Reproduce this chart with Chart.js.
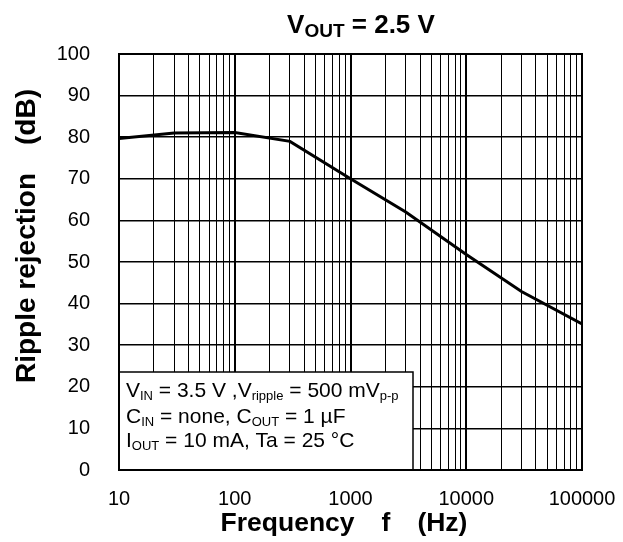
<!DOCTYPE html>
<html>
<head>
<meta charset="utf-8">
<script src="https://cdn.jsdelivr.net/npm/chart.js"></script>
<style>
  body { margin: 0; background: #fff; }
  canvas { display: block; }
</style>
</head>
<body>
<canvas id="myChart" width="623" height="542"></canvas>
<script>
// data
var frequencies = [10, 30, 100, 300, 1000, 3000, 10000, 30000, 100000];
var rippleRejection = [79.7, 81, 81.1, 79, 70, 62, 51.8, 42.9, 35.1];
var xTickValues = [10, 100, 1000, 10000, 100000];
var yTickValues = [0, 10, 20, 30, 40, 50, 60, 70, 80, 90, 100];

var FONT = '"Liberation Sans", Arial, sans-serif';

// draws a line of text made of pieces, some of them subscript
function richText(ctx, parts, x, y, size, weight, align, subRatio) {
    var subSize = Math.round(size * (subRatio || 0.7));
    var total = 0;
    parts.forEach(function(p) {
        ctx.font = weight + ' ' + (p.sub ? subSize : size) + 'px ' + FONT;
        p.w = ctx.measureText(p.t).width;
        total += p.w;
    });
    var cx = align == 'center' ? x - total / 2 : x;
    ctx.textBaseline = 'alphabetic';
    ctx.textAlign = 'left';
    parts.forEach(function(p) {
        ctx.font = weight + ' ' + (p.sub ? subSize : size) + 'px ' + FONT;
        ctx.fillText(p.t, cx, p.sub ? y + size * 0.15 : y);
        cx += p.w;
    });
}

var textos = {
    id: 'textos',
    afterDraw: function(chart) {
        var ctx = chart.ctx;
        var area = chart.chartArea;
        ctx.save();
        ctx.fillStyle = '#000';

        // title
        richText(ctx, [{t: 'V'}, {t: 'OUT', sub: true}, {t: ' = 2.5 V'}], 361, 33, 26, 'bold', 'center', 0.72);

        // x axis title
        ctx.font = 'bold 26.5px ' + FONT;
        ctx.textAlign = 'center';
        ctx.textBaseline = 'alphabetic';
        ctx.fillText('Frequency\u3000f\u3000(Hz)', 344, 531);

        // y axis title
        ctx.save();
        ctx.translate(35, 236);
        ctx.rotate(-Math.PI / 2);
        ctx.font = 'bold 28px ' + FONT;
        ctx.fillText('Ripple rejection\u3000(dB)', 0, 0);
        ctx.restore();

        // condition box
        var bx = area.left, by = 372, bw = 413 - bx, bh = area.bottom - by;
        ctx.fillStyle = '#fff';
        ctx.fillRect(bx, by, bw, bh);
        ctx.strokeStyle = '#000';
        ctx.lineWidth = 1.5;
        ctx.strokeRect(bx, by, bw, bh);
        ctx.fillStyle = '#000';
        richText(ctx, [{t: 'V'}, {t: 'IN', sub: true}, {t: ' = 3.5 V ,V'}, {t: 'ripple', sub: true},
                       {t: ' = 500 mV'}, {t: 'p-p', sub: true}], 126, 397, 21, 'normal', 'left', 0.62);
        richText(ctx, [{t: 'C'}, {t: 'IN', sub: true}, {t: ' = none, C'}, {t: 'OUT', sub: true},
                       {t: ' = 1 \u00b5F'}], 126, 423, 21, 'normal', 'left', 0.62);
        richText(ctx, [{t: 'I'}, {t: 'OUT', sub: true}, {t: ' = 10 mA, Ta = 25 \u00b0C'}], 126, 447, 21, 'normal', 'left', 0.62);

        // frame on top
        ctx.lineWidth = 2;
        ctx.strokeRect(area.left, area.top, area.right - area.left, area.bottom - area.top);
        ctx.restore();
    }
};

function grafico() {
    var ctx = document.getElementById('myChart');
    var myChart = new Chart(ctx, {
        type: 'line',
        data: {
            datasets: [{
                label: 'Ripple rejection',
                data: frequencies.map(function(f, i) { return {x: f, y: rippleRejection[i]}; }),
                borderColor: '#000',
                borderWidth: 3,
                pointRadius: 0,
                tension: 0
            }]
        },
        options: {
            responsive: false,
            animation: false,
            layout: { padding: { left: 0, top: 54, right: 41, bottom: 0 } },
            plugins: { legend: { display: false }, tooltip: { enabled: false } },
            scales: {
                x: {
                    type: 'logarithmic',
                    min: 10,
                    max: 100000,
                    afterBuildTicks: function(axis) {
                        var t = [];
                        for (var d = 10; d < 100000; d *= 10) {
                            for (var m = 1; m < 10; m++) t.push({value: d * m});
                        }
                        t.push({value: 100000});
                        axis.ticks = t;
                    },
                    afterFit: function(axis) {
                        axis.height = 72;
                        axis.paddingLeft = 0;
                        axis.paddingRight = 0;
                    },
                    grid: {
                        color: '#000',
                        lineWidth: function(c) {
                            return xTickValues.indexOf(c.tick.value) >= 0 ? 2 : 1;
                        },
                        drawTicks: false
                    },
                    border: { color: '#000', width: 2 },
                    ticks: {
                        autoSkip: false,
                        maxRotation: 0,
                        padding: 17,
                        color: '#000',
                        font: { family: FONT, size: 20 },
                        callback: function(v) {
                            return xTickValues.indexOf(v) >= 0 ? String(v) : '';
                        }
                    }
                },
                y: {
                    min: 0,
                    max: 100,
                    afterBuildTicks: function(axis) {
                        axis.ticks = yTickValues.map(function(v) { return {value: v}; });
                    },
                    afterFit: function(axis) {
                        axis.width = 119;
                        axis.paddingTop = 0;
                        axis.paddingBottom = 0;
                    },
                    grid: { color: '#000', lineWidth: 1.5, drawTicks: false },
                    border: { color: '#000', width: 2 },
                    ticks: {
                        padding: 29,
                        color: '#000',
                        font: { family: FONT, size: 20 }
                    }
                }
            }
        },
        plugins: [textos]
    });
}

grafico();
</script>
</body>
</html>
